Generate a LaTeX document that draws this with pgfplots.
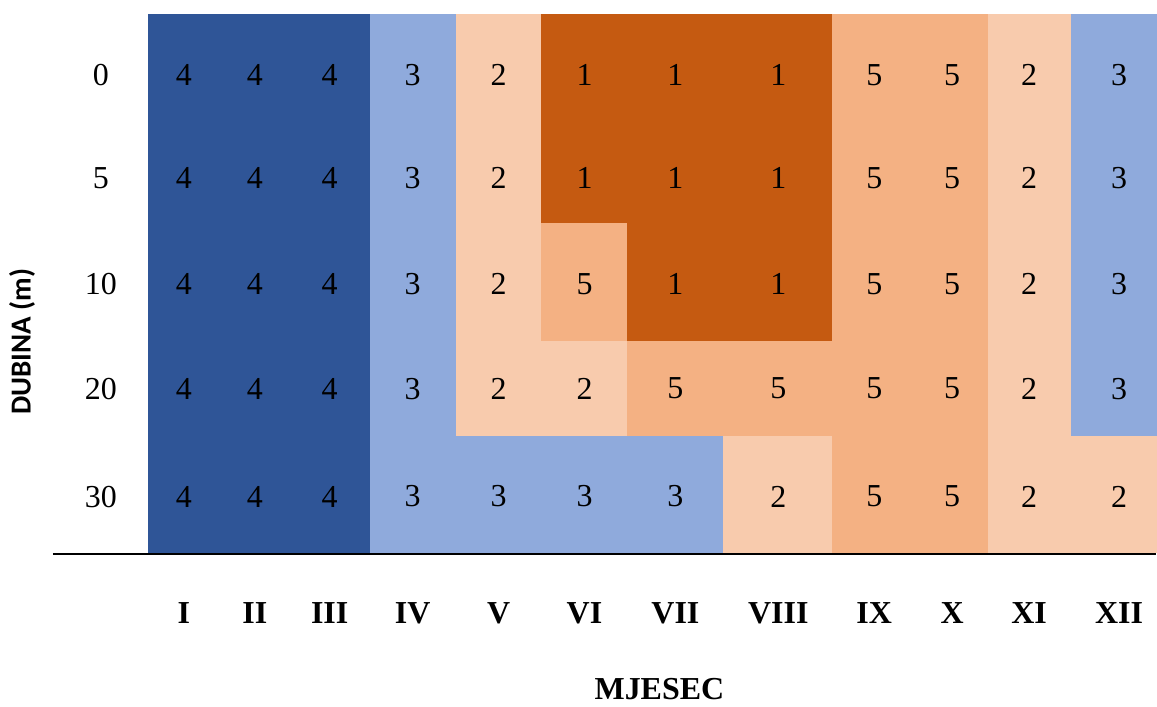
\documentclass[border=0pt]{standalone}
\usepackage{fontspec}
\setmainfont{Liberation Serif}
\newfontfamily\carlito{Carlito}
\usepackage{pgfplots}
\pgfplotsset{compat=1.18}
\usepackage{pgfplotstable}

% cell corners (x,y) on the pixel grid; c = value of the cell whose lower-left corner this is
\pgfplotstableread{
x y c
149 151 4
219 151 4
291 151 4
371 151 3
457 151 3
542 151 3
628 151 3
724 151 2
833 151 5
917 151 5
989 151 2
1072 151 2
1157 151 0
149 268 4
219 268 4
291 268 4
371 268 3
457 268 2
542 268 2
628 268 5
724 268 5
833 268 5
917 268 5
989 268 2
1072 268 3
1157 268 0
149 363 4
219 363 4
291 363 4
371 363 3
457 363 2
542 363 5
628 363 1
724 363 1
833 363 5
917 363 5
989 363 2
1072 363 3
1157 363 0
149 481 4
219 481 4
291 481 4
371 481 3
457 481 2
542 481 1
628 481 1
724 481 1
833 481 5
917 481 5
989 481 2
1072 481 3
1157 481 0
149 565 4
219 565 4
291 565 4
371 565 3
457 565 2
542 565 1
628 565 1
724 565 1
833 565 5
917 565 5
989 565 2
1072 565 3
1157 565 0
149 690 0
219 690 0
291 690 0
371 690 0
457 690 0
542 690 0
628 690 0
724 690 0
833 690 0
917 690 0
989 690 0
1072 690 0
1157 690 0
}\gridtable

% cell centres and their labels
\pgfplotstableread{
x y v
184 629 4
255 629 4
330 629 4
413 629 3
499 629 2
585 629 1
676 629 1
779 629 1
875 629 5
953 629 5
1030 629 2
1120 629 3
184 526 4
255 526 4
330 526 4
413 526 3
499 526 2
585 526 1
676 526 1
779 526 1
875 526 5
953 526 5
1030 526 2
1120 526 3
184 420 4
255 420 4
330 420 4
413 420 3
499 420 2
585 420 5
676 420 1
779 420 1
875 420 5
953 420 5
1030 420 2
1120 420 3
184 315 4
255 315 4
330 315 4
413 315 3
499 315 2
585 315 2
676 315 5
779 315 5
875 315 5
953 315 5
1030 315 2
1120 315 3
184 207 4
255 207 4
330 207 4
413 207 3
499 207 3
585 207 3
676 207 3
779 207 2
875 207 5
953 207 5
1030 207 2
1120 207 2
}\cells

\begin{document}
\begin{tikzpicture}
\begin{axis}[
  x=0.5pt, y=0.5pt,
  xmin=53, xmax=1157, ymin=150, ymax=690,
  enlargelimits=false,
  clip=false,
  axis on top,
  axis x line=bottom, axis y line=left,
  x axis line style={-, line width=1pt},
  y axis line style={draw=none},
  major tick length=0pt,
  xtick={184,255,330,413,499,585,676,779,875,953,1030,1120},
  xticklabels={I,II,III,IV,V,VI,VII,VIII,IX,X,XI,XII},
  ytick={207,315,420,526,629},
  yticklabels={30,20,10,5,0},
  xticklabel style={font=\fontsize{16}{19}\selectfont\bfseries, anchor=center, yshift=-30pt},
  yticklabel style={font=\fontsize{16}{19}\selectfont, anchor=center, xshift=24pt},
  colormap={cells}{rgb255=(255,255,255) rgb255=(197,90,17) rgb255=(248,203,173) rgb255=(143,170,220) rgb255=(47,85,151) rgb255=(244,177,131)},
  colormap access=direct,
  xlabel={MJESEC}, ylabel={DUBINA (m)},
  every axis x label/.style={at={(rel axis cs:0.5498,-0.2519)}, anchor=center, font=\fontsize{16}{19}\selectfont\bfseries},
  every axis y label/.style={at={(rel axis cs:-0.0281,0.3926)}, anchor=center, rotate=90, font=\carlito\fontsize{14.5}{17}\selectfont\bfseries},
]
\addplot[surf, shader=flat corner, mesh/cols=13, point meta=explicit] table[x=x, y=y, meta=c] {\gridtable};
\addplot[draw=none, mark=none, nodes near coords, point meta=explicit symbolic,
  nodes near coords style={anchor=center, inner sep=0pt, font=\fontsize{16}{19}\selectfont, text=black}]
  table[x=x, y=y, meta=v] {\cells};
\path (axis cs:0,0) rectangle (axis cs:1157,704);
\end{axis}
\end{tikzpicture}
\end{document}
